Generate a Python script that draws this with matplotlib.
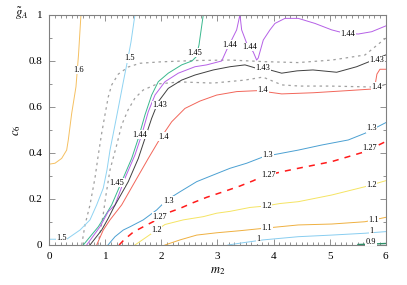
import matplotlib
matplotlib.use('Agg')
import matplotlib.pyplot as plt
from matplotlib.ticker import MultipleLocator, FormatStrFormatter

plt.rcParams['font.family'] = ['Liberation Serif', 'DejaVu Serif']
plt.rcParams['mathtext.fontset'] = 'stix'

# contour lines (m2, c6)
x16 = [0, 0.102, 0.221, 0.310, 0.339, 0.400, 0.476, 0.521, 0.565]
y16 = [0.351, 0.355, 0.376, 0.412, 0.456, 0.572, 0.687, 0.825, 1.0]

x15 = [0, 0.310, 0.548, 0.726, 0.845, 0.963, 1.029, 1.083, 1.136, 1.231, 1.320, 1.391, 1.457, 1.528]
y15 = [0.025, 0.025, 0.065, 0.109, 0.174, 0.247, 0.326, 0.412, 0.477, 0.595, 0.708, 0.795, 0.881, 1.0]

x145 = [0.606, 0.874, 1.024, 1.113, 1.291, 1.470, 1.588, 1.707, 1.826, 1.944, 2.122, 2.361, 2.545, 2.616, 2.670, 2.747]
y145 = [0, 0.079, 0.138, 0.174, 0.275, 0.376, 0.463, 0.565, 0.651, 0.709, 0.746, 0.782, 0.799, 0.816, 0.868, 1.0]

x144 = [0.667, 0.904, 1.052, 1.172, 1.350, 1.528, 1.648, 1.766, 1.885, 2.064, 2.301, 2.599, 2.807, 3.075,
        3.164, 3.342, 3.401, 3.431, 3.521, 3.638, 3.699, 3.727, 3.817, 3.936, 4.025, 4.204, 4.441, 4.739,
        5.037, 5.274, 5.511, 5.750, 6.0]
y144 = [0, 0.079, 0.145, 0.174, 0.290, 0.391, 0.478, 0.579, 0.651, 0.709, 0.746, 0.774, 0.782, 0.799,
        0.847, 0.934, 1.0, 0.934, 0.876, 0.838, 0.803, 0.812, 0.890, 0.934, 0.962, 0.984, 0.984, 0.962,
        0.934, 0.919, 0.916, 0.926, 0.951]

x143 = [0.726, 0.935, 1.052, 1.154, 1.409, 1.588, 1.707, 1.826, 1.944, 2.122, 2.361, 2.599, 2.925, 3.223,
        3.490, 3.699, 3.847, 4.145, 4.418, 4.703, 5.126, 5.482, 5.737, 6.0]
y143 = [0, 0.065, 0.116, 0.165, 0.275, 0.376, 0.463, 0.550, 0.622, 0.680, 0.716, 0.738, 0.760, 0.774,
        0.782, 0.767, 0.766, 0.746, 0.756, 0.760, 0.750, 0.774, 0.799, 0.825]

x14 = [0.845, 0.963, 1.083, 1.291, 1.528, 1.766, 1.944, 2.183, 2.420, 2.688, 2.986, 3.342, 3.699, 3.847,
       4.145, 4.708, 5.304, 5.750, 5.808, 5.844, 5.898, 6.0]
y14 = [0, 0.065, 0.109, 0.174, 0.275, 0.376, 0.449, 0.535, 0.593, 0.625, 0.651, 0.666, 0.670, 0.666,
       0.656, 0.661, 0.670, 0.677, 0.690, 0.742, 0.763, 0.763]

x13 = [1.047, 1.172, 1.320, 1.439, 1.676, 1.915, 2.094, 2.331, 2.629, 2.925, 3.223, 3.521, 3.829, 4.441,
       4.858, 5.333, 5.631, 6.0]
y13 = [0, 0.036, 0.065, 0.079, 0.109, 0.152, 0.195, 0.231, 0.275, 0.304, 0.333, 0.355, 0.384, 0.412,
       0.434, 0.456, 0.485, 0.531]

x127 = [1.245, 1.332, 1.498, 1.707, 1.915, 2.094, 2.331, 2.568, 2.807, 3.103, 3.401, 3.638, 3.793, 4.145,
        4.441, 5.037, 5.631, 6.0]
y127 = [0, 0.022, 0.056, 0.083, 0.109, 0.138, 0.159, 0.184, 0.207, 0.231, 0.256, 0.279, 0.297, 0.318,
        0.333, 0.362, 0.405, 0.449]

x12 = [1.528, 1.737, 1.915, 2.064, 2.390, 2.747, 2.986, 3.223, 3.580, 3.847, 4.114, 4.441, 5.037, 5.631, 6.0]
y12 = [0, 0.035, 0.065, 0.089, 0.109, 0.123, 0.138, 0.146, 0.163, 0.169, 0.180, 0.188, 0.217, 0.253, 0.279]

x11 = [2.064, 2.331, 2.629, 2.986, 3.401, 3.847, 4.441, 5.037, 5.631, 6.0]
y11 = [0, 0.022, 0.043, 0.053, 0.062, 0.073, 0.087, 0.091, 0.101, 0.120]

x10 = [3.187, 3.490, 3.811, 4.441, 5.037, 5.631, 6.0]
y10 = [0, 0.011, 0.022, 0.036, 0.043, 0.051, 0.058]

x09 = [5.505, 5.755, 6.0]
y09 = [0.002, 0.004, 0.0065]

# dotted gray bands
xda = [0.578, 0.637, 0.726, 0.815, 0.874, 0.935, 0.993, 1.052, 1.113, 1.231, 1.409, 1.618, 1.974, 2.599,
       3.223, 3.847, 4.436, 5.042, 5.631, 6.0]
yda = [0, 0.087, 0.174, 0.291, 0.391, 0.486, 0.565, 0.643, 0.695, 0.742, 0.773, 0.789, 0.795, 0.801,
       0.803, 0.796, 0.792, 0.803, 0.825, 0.898]
xdb = [0.869, 0.958, 1.011, 1.083, 1.202, 1.291, 1.404, 1.528, 1.676, 1.921, 2.331, 2.920, 3.490, 3.811,
       4.149, 4.472, 5.007, 5.756, 6.0]
ydb = [0, 0.126, 0.217, 0.326, 0.434, 0.521, 0.586, 0.638, 0.673, 0.699, 0.708, 0.703, 0.716, 0.729,
       0.695, 0.690, 0.690, 0.686, 0.695]

# contour labels: (text, x, y)
labels = [
    ('1.6', 0.52, 0.76), ('1.5', 1.44, 0.81), ('1.5', 0.22, 0.03),
    ('1.45', 2.60, 0.835), ('1.45', 1.21, 0.27),
    ('1.44', 3.22, 0.87), ('1.44', 3.58, 0.86), ('1.44', 5.33, 0.916), ('1.44', 1.62, 0.478),
    ('1.43', 1.97, 0.608), ('1.43', 3.81, 0.768), ('1.43', 5.84, 0.803),
    ('1.4', 2.03, 0.47), ('1.4', 3.81, 0.673), ('1.4', 5.84, 0.687),
    ('1.3', 2.12, 0.192), ('1.3', 3.90, 0.391), ('1.3', 5.75, 0.507),
    ('1.27', 1.97, 0.123), ('1.27', 3.91, 0.304), ('1.27', 5.72, 0.42),
    ('1.2', 1.915, 0.065), ('1.2', 3.88, 0.169), ('1.2', 5.75, 0.261),
    ('1.1', 3.88, 0.075), ('1.1', 5.78, 0.109),
    ('1', 3.73, 0.025), ('1', 5.75, 0.061),
    ('0.9', 5.74, 0.014),
]

fig = plt.figure(figsize=(4.07, 2.85), dpi=100)
ax = fig.add_axes([0.1211, 0.1404, 0.8265, 0.8081])

lw = 0.7
ax.plot(xda, yda, color='#a0a0a0', lw=0.9, ls=(0, (2, 3)))
ax.plot(xdb, ydb, color='#a0a0a0', lw=0.9, ls=(0, (2, 3)))
ax.plot(x16, y16, color='#f5c061', lw=lw)
ax.plot(x15, y15, color='#8fd3f2', lw=lw)
ax.plot(x145, y145, color='#3ab88e', lw=lw)
ax.plot(x144, y144, color='#b560e6', lw=lw)
ax.plot(x143, y143, color='#404040', lw=lw)
ax.plot(x14, y14, color='#f2665a', lw=lw)
ax.plot(x13, y13, color='#4ba0d2', lw=lw)
ax.plot(x127, y127, color='#ff1a1a', lw=1.1, ls=(0, (4, 4)))
ax.plot(x12, y12, color='#f5e463', lw=lw)
ax.plot(x11, y11, color='#efb040', lw=lw)
ax.plot(x10, y10, color='#88cdf0', lw=lw)
ax.plot(x09, y09, color='#2e8f68', lw=1.0)

for t, lx, ly in labels:
    ax.text(lx, ly, t, fontsize=6, ha='center', va='center', zorder=5,
            bbox=dict(boxstyle='square,pad=0.05', fc='white', ec='none'))

ax.set_xlim(0, 6)
ax.set_ylim(0, 1)
ax.xaxis.set_major_locator(MultipleLocator(1))
ax.xaxis.set_minor_locator(MultipleLocator(0.1))
ax.yaxis.set_major_locator(MultipleLocator(0.2))
ax.yaxis.set_minor_locator(MultipleLocator(0.1))
ax.yaxis.set_major_formatter(FormatStrFormatter('%g'))
ax.tick_params(which='both', direction='in', top=True, right=True, color='#808080',
               labelsize=8, pad=5)
ax.tick_params(which='major', length=4, width=0.6)
ax.tick_params(which='minor', length=2.5, width=0.6)
for s in ax.spines.values():
    s.set_color('#808080')
    s.set_linewidth(0.8)

ax.set_xlabel('$m_2$', fontsize=9, labelpad=3)
ax.set_ylabel('$c_6$', fontsize=9, labelpad=4)
fig.text(0.054, 0.951, r'$\tilde{g}_A$', fontsize=9, ha='center', va='center')

fig.savefig('out.png', dpi=100)
